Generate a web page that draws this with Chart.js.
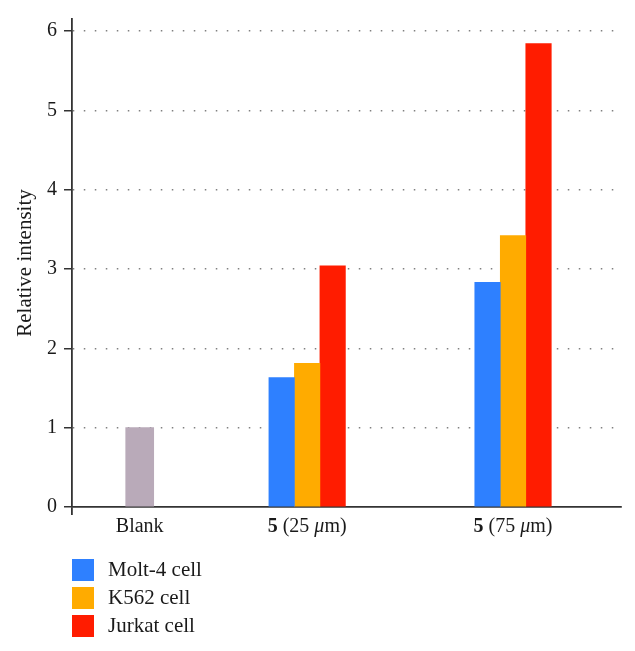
<!DOCTYPE html>
<html>
<head>
<meta charset="utf-8">
<script src="https://cdn.jsdelivr.net/npm/chart.js@4/dist/chart.umd.min.js"></script>
<style>
  html, body { margin: 0; padding: 0; background: #fff; }
</style>
</head>
<body>
<canvas id="c" width="635" height="651"></canvas>
<script>
// values
const groupLabels = ['Blank', '5 (25 μm)', '5 (75 μm)'];
const groupX = [0.74, 2.57, 4.82]; // where each group sits on the x axis (0..6)
const blank  = [1.0, null, null];
const molt4  = [null, 1.63, 2.83];
const k562   = [null, 1.81, 3.42];
const jurkat = [null, 3.04, 5.84];
const yTicks = [0, 1, 2, 3, 4, 5, 6];

const serif = "'Liberation Serif', 'DejaVu Serif', serif";
const ink = '#1a1a1a';

const toPts = arr => arr.map((v, i) => ({ x: groupX[i], y: v }));

// split "5 (25 μm)" into bold compound number, plain text and italic mu
function splitLabel(s) {
  const out = [];
  let rest = s;
  const m = s.match(/^(\d+)(\s.*)$/);
  if (m) { out.push({ t: m[1], font: 'bold 20px ' + serif }); rest = m[2]; }
  rest.split(/(μ)/).forEach(t => {
    if (t) out.push({ t, font: (t === 'μ' ? 'italic ' : '') + '20px ' + serif });
  });
  return out;
}

const extras = {
  id: 'extras',
  afterDraw(chart) {
    const ctx = chart.ctx;
    const xs = chart.scales.x;
    ctx.save();
    ctx.fillStyle = ink;
    ctx.textBaseline = 'alphabetic';
    groupLabels.forEach((lab, i) => {
      const parts = splitLabel(lab);
      let w = 0;
      parts.forEach(p => { ctx.font = p.font; p.w = ctx.measureText(p.t).width; w += p.w; });
      let x = xs.getPixelForValue(groupX[i]) - w / 2;
      parts.forEach(p => { ctx.font = p.font; ctx.fillText(p.t, x, 532); x += p.w; });
    });

    // legend, one item per line
    const items = chart.data.datasets.filter(d => d.label !== 'Blank');
    ctx.textBaseline = 'alphabetic';
    ctx.font = '21px ' + serif;
    items.forEach((d, i) => {
      const y = 559 + i * 28;
      ctx.fillStyle = d.backgroundColor;
      ctx.fillRect(72, y, 22, 22);
      ctx.fillStyle = ink;
      ctx.fillText(d.label, 108, y + 17);
    });
    ctx.restore();
  }
};

new Chart(document.getElementById('c'), {
  type: 'bar',
  data: {
    datasets: [
      { label: 'Blank', data: toPts(blank), backgroundColor: '#b9aab9', grouped: false, barThickness: 28 },
      { label: 'Molt-4 cell', data: toPts(molt4), backgroundColor: '#2e80ff', barThickness: 25.5 },
      { label: 'K562 cell', data: toPts(k562), backgroundColor: '#ffab00', barThickness: 25.5 },
      { label: 'Jurkat cell', data: toPts(jurkat), backgroundColor: '#ff1c00', barThickness: 25.5 }
    ]
  },
  options: {
    responsive: false,
    animation: false,
    layout: { padding: { left: 0, top: 13, right: 14, bottom: 0 } },
    plugins: { legend: { display: false }, tooltip: { enabled: false } },
    scales: {
      x: {
        type: 'linear',
        min: 0,
        max: 6,
        offset: false,
        afterBuildTicks: s => { s.ticks = [0, ...groupX].map(v => ({ value: v })); },
        ticks: { callback: () => '' },
        grid: {
          offset: false,
          drawOnChartArea: false,
          color: c => (c.tick && c.tick.value === 0) ? '#333' : 'rgba(0,0,0,0)',
          lineWidth: 1.8,
          tickLength: 8
        },
        border: { color: '#333', width: 1.8 },
        afterFit: s => { s.height = 144; }
      },
      y: {
        min: 0,
        max: 6.15,
        afterBuildTicks: s => { s.ticks = yTicks.map(v => ({ value: v })); },
        ticks: { font: { family: serif, size: 20 }, color: ink, padding: 7 },
        grid: {
          color: c => (c.tick && c.tick.value === 0) ? 'rgba(0,0,0,0)' : '#808080',
          lineWidth: 1.5,
          tickColor: '#333',
          tickWidth: 1.5,
          tickLength: 8,
          tickBorderDash: []
        },
        border: { color: '#333', width: 1.8, dash: [1.5, 9.5] },
        title: {
          display: true,
          text: 'Relative intensity',
          font: { family: serif, size: 21 },
          color: ink,
          padding: { top: 13, bottom: 0 }
        },
        afterFit: s => { s.width = 72; }
      }
    }
  },
  plugins: [extras]
});
</script>
</body>
</html>
